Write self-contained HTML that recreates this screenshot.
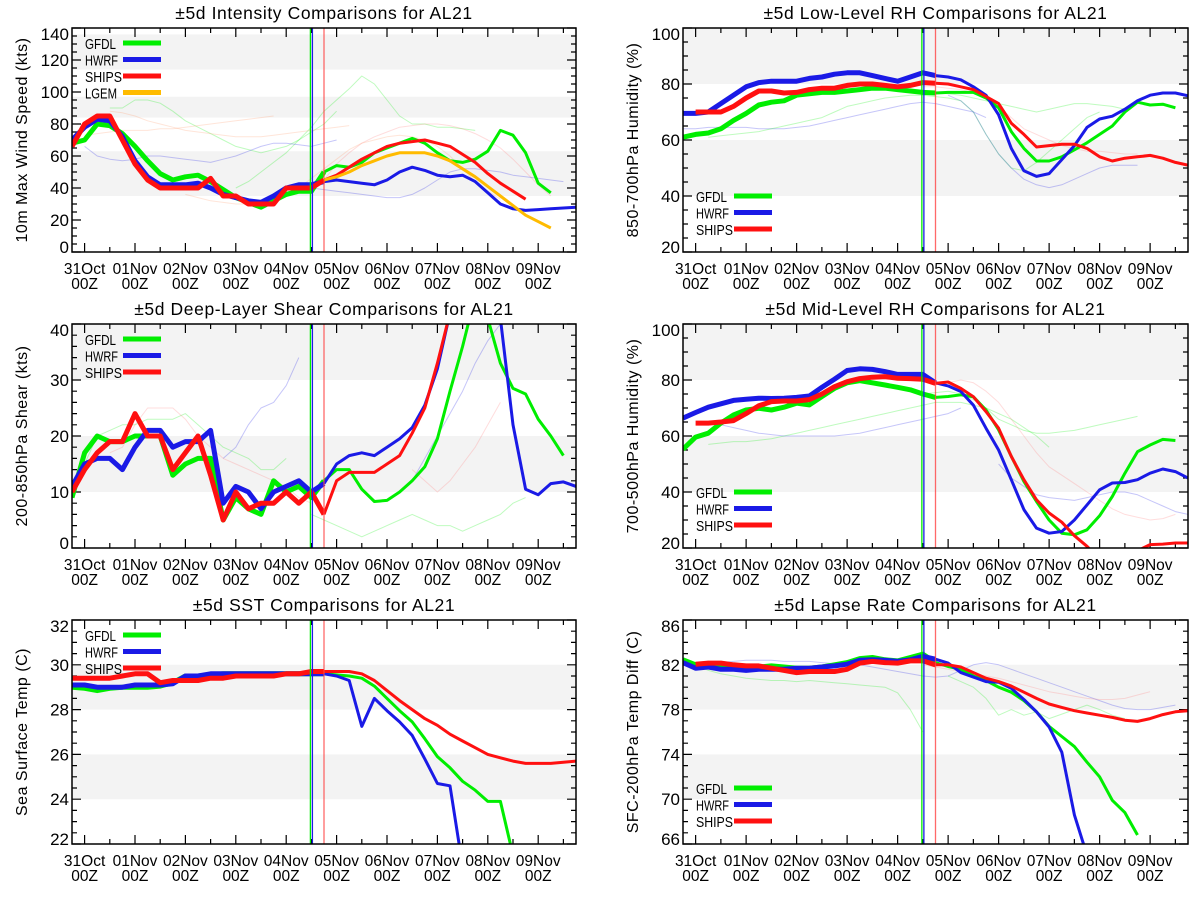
<!DOCTYPE html>
<html><head><meta charset="utf-8"><title>AL21 ±5d Comparisons</title>
<style>
html,body{margin:0;padding:0;background:#fff;}
svg{display:block;font-family:"Liberation Sans",Arial,sans-serif;}
</style></head>
<body>
<svg id="root" width="1200" height="900" viewBox="0 0 1200 900" xmlns="http://www.w3.org/2000/svg"></svg>
<script>
// ---------- DATA (values every 6h, start day relative to 31Oct 00Z) ----------
const dayLabels = ["31Oct","01Nov","02Nov","03Nov","04Nov","05Nov","06Nov","07Nov","08Nov","09Nov"];
const markerGreenDay = 4.48, markerBlueDay = 4.52, markerRedDay = 4.75;

// Intensity
const intGFDL = [68,70,80,79,74,66,57,49,45,47,48,44,39,34,31,28,32,36,38,38,50,54,53,56,62,65,68,71,68,62,57,56,58,63,76,73,62,43,37];
const intHWRF = [70,78,83,82,72,57,47,42,42,42,43,40,36,34,32,31,35,40,42,42,44,45,44,43,42,45,50,53,51,48,47,48,44,37,30,27,26,26.5,27,27.5,28];
const intSHIPS = [66,80,85,85,70,55,45,40,40,40,40,46,35,35,30,30,30,40,40,40,45,48,53,58,62,66,68,69,70,68,66,61,56,49,43,38,33];
const intLGEM = [45,47,50,54,57,60,62,62,62,60,57,52,47,41,35,29,23,19,15];
const intFaintG1 = [90,90,95,95,93,88,82,78,74,70,66,64,62,64,66,70,75,80,88];
const intFaintG2 = [40,44,50,56,62,70,78,88,95,102,110,105,95,85,80,80,78,78,77,76];
const intFaintO1 = [73,74,75,76,76,76,77,77,78,79,80,81,82,83,84,85];
const intFaintO2 = [88,87,85,82,80,78,76,75,74,73,72,72,72,73,74,75,76,77,78,79];
const intFaintR1 = [38,45,55,62,68,72,75,78,79,80,80,79,77,74,70,65,58,50,42,35];
const intFaintB1 = [66,60,58,57,58,60,60,59,58,57,56,58,60,63,66,68,68,67,66,68,70];
const intFaintB2 = [40,39,38,37,36,35,34,34,36,40,45,50,52,52,51,50,48,47,46,45,44];
const intFaintO3 = [36,34,32,31,30,30,31,33,36,40,46,52,58,64,68,70,72,73,72,70,66,60,52,44,38,33];

// Low-level RH
const lrGFDL = [61,62,62.5,64,67,69.5,72.5,73.5,74,76,76.5,77,77,77.5,78,78.5,78.5,78,77.5,77,76.8,77,77,77,75,71.5,63,57,52.5,52.5,54,56.5,59,62,65,70,73.5,72.5,72.8,71.5];
const lrHWRF = [69.5,69.5,70,73,76,79,80.5,81,81,81,82,82.5,83.5,84,84,83,82,81,82.5,84,83,82.5,81.5,79,76,69,57,49,47,48,53,58,64.5,67.5,68.5,71,74,76,76.8,76.8,75.8];
const lrSHIPS = [70,70,70,72,75,77.5,77.5,76.8,77,78,78.5,78.5,79.5,80,80,79.5,79,79.5,80.5,80.3,80,79,78,75.5,73,66,62,57.5,58,58.5,58.5,57,54,52.5,53.5,54,54.5,53.5,52,51];
const lrFaintB1 = [64,64,64.5,64.5,64.5,64.5,64,64,64,64.5,65,66,67,68,69,70,71,72,73,73.5,73,72,71,70,68];
const lrFaintG1 = [61,61.5,62,62.5,63,64,65,66,67,68,70,72,73,74,75,75.5,76,76,75.5,75,74,70,62,55,50,49,52,56,60,64,68,70];
const lrFaintR1 = [79,79,78.5,78,77,75,72,68,64,62,60,58,57,56,56,55.5,55,55];
const lrFaintG2 = [77,77,76.5,76,75,74,73,72,71,70,71,72,73,73,72.5,72,71];
const lrFaintB2 = [76,74,70,62,55,50,46,44,43,44,46,48,50,51,51,51];

// Deep-layer shear
const shGFDL = [9,17,20,19,19,20,20,20,13,15,16,16,5,9,7,6,12,10,11,9,12,14,14,10.5,8.3,8.5,10,12,14.5,19.5,28,36,45,41,33,28.5,27.5,23,20,16.5];
const shHWRF = [11,15,16,16,14,18,21,21,18,19,19,21,8,11,10,7,10,11,12,10,11.5,15,16.5,17,16.5,18,19.5,21.5,25.5,32,42,50,55,50,41,22,10.5,9.5,11.5,11.8,11];
const shSHIPS = [10,14,17,19,19,24,20,20,14,17,20,13,5,10,7,8,8,10,8,10,6,12,13.5,13.5,13.5,15,16.5,20.5,25,33,42];
const shFaintB1 = [16,18,22,25,26,29,34];
const shFaintG1 = [15,20,21,22,22,23,23,23,24,22,20,18,17,16,14,14,16];
const shFaintR1 = [17,18,22,25,25,25,23,20,18,16,15,14,13,12,11,9,8];
const shFaintG2 = [6,5,4,3,2,3,4,5,6,5,4,4,3,4,5,6,8,9];
const shFaintB2 = [12,16,20,24,28,33,37,40];
const shFaintR2 = [14,12,10,12,15,18,22,26];

// Mid-level RH
const mrGFDL = [55.3,59.6,61,64.6,67.5,69.3,69.9,69.3,70.3,71.7,71.1,74.1,77,79,79.8,79,78.2,77.4,76.5,75,73.8,74.1,74.7,74,69.3,62.2,52.7,43.8,36.6,30,25.3,24.7,26.5,31.5,38.4,46.7,54.4,56.8,58.8,58.4];
const mrHWRF = [66.4,68.4,70.3,71.5,72.7,73.1,73.5,73.4,73.5,73.8,74.3,77.4,80.3,83.4,84,83.8,83,82,82,82,79,77.9,75.9,71,62.8,55,44.4,33.7,27.1,25.3,25.9,30,35.4,40.8,43.2,43.4,44.4,46.7,48.2,47.3,45];
const mrSHIPS = [64.6,64.6,65,65.5,68,70.8,72.3,72.5,72.5,73,75,77.6,79.4,80.5,81,81.2,80.6,80.5,80.3,78.8,79.3,77,74,68.7,62.8,52.7,44.4,37.2,32.5,29.2,24.4,20.6,16,13,15,19,21.2,21.4,21.8,21.8];
const mrFaintG1 = [57,57.5,58,58,58.5,59,60,61,62,63,64,65,66,67,68,69,70,71,72,72,72,71,70,68,66,63,60,56];
const mrFaintB1 = [64,63,62,61,60.5,60,60,60,60,60,60.5,61,62,63,64,65,66,67,68,70];
const mrFaintG2 = [75,75.5,76,75,73,70,66,64,62,61,61,61.5,62,63,64,65,66,67];
const mrFaintR1 = [79,80,79,76,72,66,60,54,49,46,43,40,37,34,32,31,30,30.5,32];
const mrFaintB2 = [50,45,42,39,38,37.5,37,38,39,40,40,39,37,35,33,32,31,31.5,32];

// SST
const sstGFDL = [29,28.95,28.85,28.95,29,29,29,29.05,29.2,29.5,29.5,29.55,29.6,29.6,29.6,29.6,29.6,29.6,29.6,29.6,29.6,29.55,29.5,29.4,29.05,28.5,27.95,27.45,26.7,25.9,25.4,24.8,24.4,23.9,23.9,21.5];
const sstHWRF = [29.1,29.1,29,29,29,29.1,29.1,29.1,29.15,29.5,29.5,29.6,29.6,29.6,29.6,29.6,29.6,29.6,29.6,29.6,29.6,29.5,29.3,27.25,28.5,27.95,27.45,26.85,25.8,24.7,24.6,21];
const sstSHIPS = [29.4,29.4,29.4,29.4,29.5,29.6,29.6,29.2,29.3,29.3,29.3,29.4,29.4,29.5,29.5,29.5,29.5,29.6,29.6,29.7,29.7,29.7,29.7,29.6,29.3,28.85,28.4,28,27.6,27.3,26.9,26.6,26.3,26,25.85,25.7,25.6,25.6,25.6,25.65,25.7];

// Lapse rate
const lpGFDL = [82.45,82,81.9,81.9,81.8,81.8,81.8,81.9,81.8,81.7,81.7,81.8,82,82.2,82.55,82.65,82.45,82.35,82.65,82.95,82.2,81.85,81.6,81,80.6,80,79.55,78.8,77.8,76.5,75.6,74.7,73.3,72,69.9,68.8,66.8];
const lpHWRF = [82.2,81.7,81.8,81.6,81.6,81.5,81.6,81.6,81.6,81.7,81.7,81.8,81.9,82.05,82.4,82.45,82.4,82.3,82.45,82.75,82.5,82.15,81.3,80.9,80.5,80.45,79.9,78.9,77.8,76.45,74.2,68.6,65];
const lpSHIPS = [82.05,82.15,82.15,82,81.9,81.9,81.7,81.5,81.3,81.4,81.4,81.4,81.6,82.15,82.3,82.2,82.15,82.35,82.35,82,82,81.8,81.3,80.8,80.5,80.1,79.55,79,78.5,78.2,77.9,77.7,77.5,77.3,77.05,76.95,77.2,77.55,77.8,77.9];
const lpFaintG1 = [82,81.5,81.2,81,80.8,80.7,80.6,80.6,80.5,80.6,80.5,80.4,80.3,80.2,80.1,80,79.5,78,76];
const lpFaintB1 = [82.2,82.3,82.4,82.4,82.4,82.3,82.3,82.3,82.2,82.1,82,82,81.8,81.6,81.4,81.2,81,80.9,81,81.5,82,82.2,82,81.6,81.2,80.8,80.4,80,79.6,79.2,78.8,78.4,78.1,78,78,78.2,78.4];
const lpFaintR1 = [82,81.8,81.6,81.4,81.2,81,80.8,80.5,80.2,79.9,79.6,79.4,79.2,79,78.9,78.9,79,79.3,79.6];
const lpFaintG2 = [81,80.5,80,79,77.5,78,77.5,77.8,77.2,77.6,78,78.4,78,77.5,77.2];

// ---------- RENDERING ----------
const NS = "http://www.w3.org/2000/svg";
const root = document.getElementById("root");
const DAY_MIN = -0.25, DAY_MAX = 9.75, STEP = 0.25, SPLIT = 4.75;
const C = {g:"#00ee00", b:"#1a1ae6", r:"#ff1010", o:"#ffbb00"};
const LEGW = {GFDL:31, HWRF:33, SHIPS:37, LGEM:32};

function mk(tag, attrs, parent){
  const el = document.createElementNS(NS, tag);
  for (const k in attrs) el.setAttribute(k, attrs[k]);
  parent.appendChild(el);
  return el;
}
function xs(p,d){ return p.x0 + (d-DAY_MIN)/(DAY_MAX-DAY_MIN)*(p.x1-p.x0); }
function ys(p,v){ return p.y1 - (v-p.ymin)/(p.ymax-p.ymin)*(p.y1-p.y0); }
function pts(p, start, vals, from, to){
  const out=[];
  vals.forEach((v,i)=>{ const d=start+i*STEP; if(d>=from-1e-6 && d<=to+1e-6) out.push(xs(p,d).toFixed(1)+","+ys(p,v).toFixed(1)); });
  return out.join(" ");
}

const panels = [
 {id:"intensity", x0:72,x1:576,y0:28,y1:252, ymin:0,ymax:140, major:20, minor:5,
  bands:[[35,63],[84,97],[114,136]], title:"±5d Intensity Comparisons for AL21", ylab:"10m Max Wind Speed (kts)", legTop:true,
  series:[["GFDL",C.g,-0.25,intGFDL],["HWRF",C.b,-0.25,intHWRF],["SHIPS",C.r,-0.25,intSHIPS],["LGEM",C.o,4.75,intLGEM]],
  faint:[[C.g,0.5,intFaintG1],[C.g,3.0,intFaintG2],["#ff9966",0,intFaintO1],["#ff9966",0.5,intFaintO2],["#ff7777",4.5,intFaintR1],[C.b,0,intFaintB1],[C.b,4.5,intFaintB2],["#ff9966",2.0,intFaintO3]]},
 {id:"low-rh", x0:683,x1:1188,y0:28,y1:252, ymin:20,ymax:100, major:20, minor:5,
  bands:[[40,60],[80,100]], title:"±5d Low-Level RH Comparisons for AL21", ylab:"850-700hPa Humidity (%)", legTop:false,
  series:[["GFDL",C.g,-0.25,lrGFDL],["HWRF",C.b,-0.25,lrHWRF],["SHIPS",C.r,0,lrSHIPS]],
  faint:[[C.b,-0.25,lrFaintB1],[C.g,0.25,lrFaintG1],["#ff7777",4.5,lrFaintR1],[C.g,4.5,lrFaintG2],[C.b,5,lrFaintB2]]},
 {id:"shear", x0:72,x1:576,y0:324,y1:548, ymin:0,ymax:40, major:10, minor:2,
  bands:[[10,20],[30,40]], title:"±5d Deep-Layer Shear Comparisons for AL21", ylab:"200-850hPa Shear (kts)", legTop:true,
  series:[["GFDL",C.g,-0.25,shGFDL],["HWRF",C.b,-0.25,shHWRF],["SHIPS",C.r,-0.25,shSHIPS]],
  faint:[[C.b,2.75,shFaintB1],[C.g,0,shFaintG1],["#ff7777",0.5,shFaintR1],[C.g,4.5,shFaintG2],[C.b,6.5,shFaintB2],["#ff7777",6.5,shFaintR2]]},
 {id:"mid-rh", x0:683,x1:1188,y0:324,y1:548, ymin:20,ymax:100, major:20, minor:5,
  bands:[[40,60],[80,100]], title:"±5d Mid-Level RH Comparisons for AL21", ylab:"700-500hPa Humidity (%)", legTop:false,
  series:[["GFDL",C.g,-0.25,mrGFDL],["HWRF",C.b,-0.25,mrHWRF],["SHIPS",C.r,0,mrSHIPS]],
  faint:[[C.g,0.25,mrFaintG1],[C.b,0.5,mrFaintB1],[C.g,4.5,mrFaintG2],["#ff7777",5,mrFaintR1],[C.b,6,mrFaintB2]]},
 {id:"sst", x0:72,x1:576,y0:620,y1:844, ymin:22,ymax:32, major:2, minor:0.5,
  bands:[[24,26],[28,30]], title:"±5d SST Comparisons for AL21", ylab:"Sea Surface Temp (C)", legTop:true,
  series:[["GFDL",C.g,-0.25,sstGFDL],["HWRF",C.b,-0.25,sstHWRF],["SHIPS",C.r,-0.25,sstSHIPS]],
  faint:[]},
 {id:"lapse-rate", x0:683,x1:1188,y0:620,y1:844, ymin:66,ymax:86, major:4, minor:1,
  bands:[[70,74],[78,82]], title:"±5d Lapse Rate Comparisons for AL21", ylab:"SFC-200hPa Temp Diff (C)", legTop:false,
  series:[["GFDL",C.g,-0.25,lpGFDL],["HWRF",C.b,-0.25,lpHWRF],["SHIPS",C.r,0,lpSHIPS]],
  faint:[[C.g,0,lpFaintG1],[C.b,0.5,lpFaintB1],["#ff7777",4.5,lpFaintR1],[C.g,5,lpFaintG2]]}
];

panels.forEach((p,pi)=>{
  const g = mk("g",{},root);
  
  
  const cp = mk("clipPath",{id:"clip"+pi},g);
  mk("rect",{x:p.x0,y:p.y0,width:p.x1-p.x0,height:p.y1-p.y0},cp);

  p.bands.forEach(b=>{
    const r = mk("rect",{x:p.x0,y:ys(p,b[1]),width:p.x1-p.x0,height:ys(p,b[0])-ys(p,b[1]),fill:"#f3f3f3"},g);
    
    
  });

  const t = mk("text",{x:(p.x0+p.x1)/2,y:p.y0-9,"text-anchor":"middle","font-size":"17.5",fill:"#000","letter-spacing":"0.6"},g);
  t.textContent = p.title;
  
  

  const yt = mk("text",{x:0,y:0,"text-anchor":"middle","font-size":"16",fill:"#000","letter-spacing":"0.5",
    transform:`translate(${p.x0-45},${(p.y0+p.y1)/2}) rotate(-90)`},g);
  yt.textContent = p.ylab;
  
  

  for(let v=p.ymin; v<=p.ymax+1e-6; v+=p.minor){
    const y = ys(p,v);
    const isMaj = Math.abs((v-p.ymin)/p.major - Math.round((v-p.ymin)/p.major))<1e-6;
    const len = isMaj?9:5;
    const tk = mk("path",{d:`M${p.x0},${y}h${len}M${p.x1},${y}h${-len}`,stroke:"#000","stroke-width":1.2},g);
    
    
    if(isMaj){
      let ly = Math.min(Math.max(y, p.y0+6), p.y1-5);
      const tl = mk("text",{x:p.x0-3,y:ly+6,"text-anchor":"end","font-size":"17",fill:"#000"},g);
      tl.textContent = String(Math.round(v));
      
      
    }
  }
  for(let d=0; d<=9.5+1e-6; d+=0.5){
    const x = xs(p,d);
    const isMaj = Math.abs(d-Math.round(d))<1e-6;
    const len = isMaj?9:5;
    const tk = mk("path",{d:`M${x},${p.y1}v${-len}M${x},${p.y0}v${len}`,stroke:"#000","stroke-width":1.2},g);
    
    
  }
  dayLabels.forEach((lab,i)=>{
    const x = xs(p,i);
    const t1 = mk("text",{x:x,y:p.y1+22,"text-anchor":"middle","font-size":"15.5",fill:"#000"},g);
    t1.textContent = lab;
    
    
    const t2 = mk("text",{x:x,y:p.y1+37,"text-anchor":"middle","font-size":"15.5",fill:"#000"},g);
    t2.textContent = "00Z";
    
    
  });

  const pg = mk("g",{"clip-path":`url(#clip${pi})`,fill:"none","stroke-linejoin":"round"},g);
  
  

  p.faint.forEach(f=>{
    const pl = mk("polyline",{points:pts(p,f[1],f[2],-1,11),stroke:f[0],"stroke-width":1,opacity:0.25},pg);
    
    
  });

  p.series.forEach(s=>{
    const thick = pts(p,s[2],s[3],-1,SPLIT);
    if(s[2] < SPLIT && thick.split(" ").length>1){
      const a = mk("polyline",{points:thick,stroke:s[1],"stroke-width":5},pg);
      
      
    }
    const b = mk("polyline",{points:pts(p,s[2],s[3],SPLIT,11),stroke:s[1],"stroke-width":3},pg);
    
    
  });

  [[markerGreenDay,C.g,1],[markerBlueDay,C.b,1],[markerRedDay,"#ff4444",0.8]].forEach(m=>{
    const x = xs(p,m[0]);
    const ml = mk("line",{x1:x,x2:x,y1:p.y0,y2:p.y1,stroke:m[1],"stroke-width":1.3,opacity:m[2]},g);
    
    
  });

  const ly0 = p.legTop ? p.y0+15 : p.y1-56;
  p.series.forEach((s,i)=>{
    const y = ly0 + i*16.5;
    const lt = mk("text",{x:p.x0+13,y:y+6,"font-size":"15",fill:"#000",textLength:LEGW[s[0]],lengthAdjust:"spacingAndGlyphs"},g);
    lt.textContent = s[0];
    
    
    const ll = mk("line",{x1:p.x0+51,x2:p.x0+89,y1:y,y2:y,stroke:s[1],"stroke-width":5},g);
    
    
  });

  const fr = mk("rect",{x:p.x0,y:p.y0,width:p.x1-p.x0,height:p.y1-p.y0,fill:"none",stroke:"#000","stroke-width":1.5},g);
  
  
});
</script>
</body></html>
